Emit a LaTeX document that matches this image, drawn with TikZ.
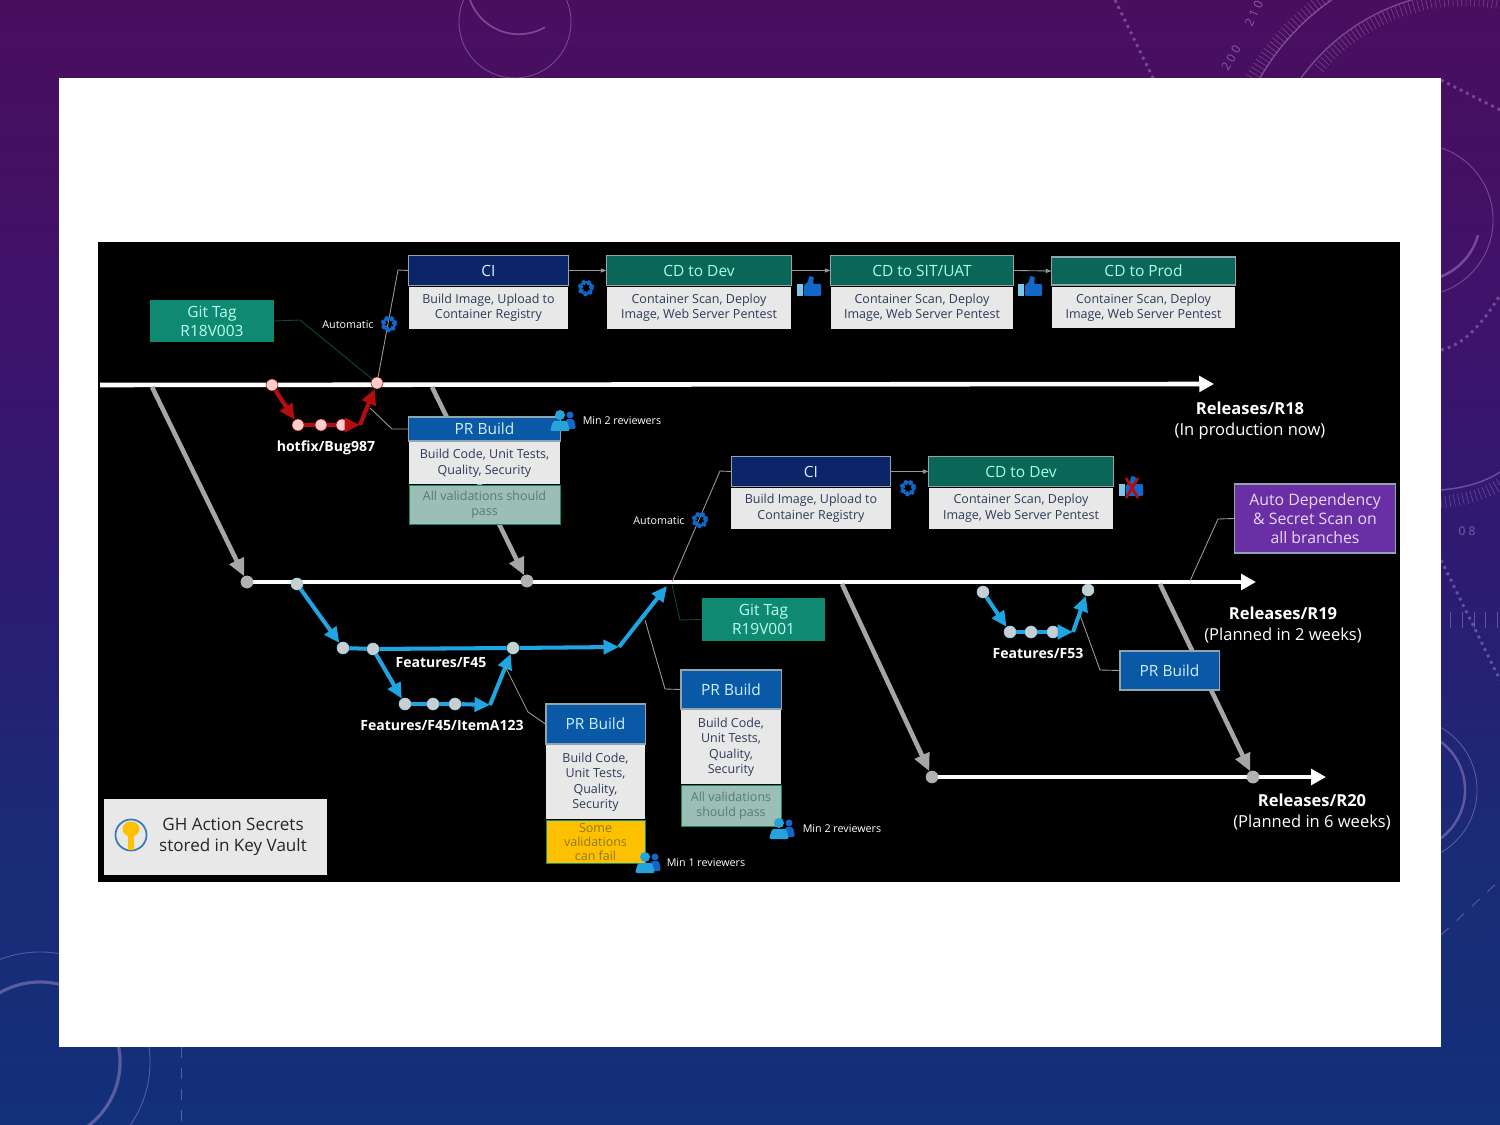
\documentclass[tikz,border=0pt]{standalone}
\usepackage{fontspec}
\usepackage{xcolor}
\usepackage{tikz}
\usetikzlibrary{arrows.meta, positioning}
\setmainfont{Open Sans}

\definecolor{slidea}{HTML}{4A0E5E}
\definecolor{slideb}{HTML}{40126A}
\definecolor{slidec}{HTML}{2D1A72}
\definecolor{slided}{HTML}{1A2A76}
\definecolor{slidee}{HTML}{13307A}
\definecolor{lilac}{HTML}{C9A9DC}
\definecolor{boxedge}{HTML}{8FA6B0}
\definecolor{cinavy}{HTML}{0B2568}
\definecolor{cdgreen}{HTML}{0A6656}
\definecolor{prblue}{HTML}{0A59A6}
\definecolor{taggreen}{HTML}{0F8A72}
\definecolor{bodygray}{HTML}{E8E8E8}
\definecolor{bodytext}{HTML}{2E3A58}
\definecolor{passfill}{HTML}{9CBFB5}
\definecolor{passtext}{HTML}{5A7A72}
\definecolor{failfill}{HTML}{FFC000}
\definecolor{failtext}{HTML}{8A7A1A}
\definecolor{scanfill}{HTML}{6B2FA5}
\definecolor{hotred}{HTML}{B30D12}
\definecolor{featblue}{HTML}{1FA5E2}
\definecolor{iconblue}{HTML}{1268C8}
\definecolor{peopleblue}{HTML}{27A3DC}

\pgfdeclareverticalshading{slidebg}{100bp}{color(0bp)=(slidee); color(25bp)=(slidee); color(38bp)=(slided); color(50bp)=(slidec); color(62bp)=(slideb); color(75bp)=(slidea); color(100bp)=(slidea)}

\tikzset{
  relline/.style={white, line width=1.3pt, -{Triangle[length=4.2pt, width=4.4pt]}},
  mergeline/.style={gray!70, line width=1.3pt, -{Triangle[length=5pt, width=4.4pt]}},
  hotline/.style={hotred, line width=1.2pt},
  featline/.style={featblue, line width=1.15pt},
  tipped/.style={-{Triangle[length=4.4pt, width=4pt]}},
  thinline/.style={gray!80, line width=.25pt},
  tagline/.style={thinline, draw=taggreen!55!black},
  stepline/.style={thinline, -{Triangle[length=1.6pt, width=1.2pt, fill=taggreen!60!cyan]}},
  commit/.style={circle, inner sep=0pt, minimum size=.12cm, line width=.15pt},
  relcommit/.style={commit, fill=gray!60, draw=gray!60},
  hotcommit/.style={commit, fill=red!20, draw=red!50!black},
  featcommit/.style={commit, fill=cyan!10!gray!45, draw=featblue!50},
  boxhead/.style={draw=boxedge, line width=.3pt, inner sep=0pt, font=\fontsize{4.4}{5.4}\selectfont},
  cihead/.style={boxhead, fill=cinavy, text=cyan!15, minimum width=1.59cm, minimum height=.3cm},
  cdhead/.style={boxhead, fill=cdgreen, text=green!20!cyan!35, minimum width=1.84cm, minimum height=.3cm},
  prhead/.style={boxhead, fill=prblue, text=cyan!20},
  boxbody/.style={fill=bodygray, text=bodytext, inner sep=0pt, align=center, font=\fontsize{3.55}{4.3}\selectfont},
  passbox/.style={boxbody, fill=passfill, text=passtext, draw=taggreen, line width=.25pt},
  failbox/.style={boxbody, fill=failfill, text=failtext, draw=taggreen, line width=.25pt, font=\fontsize{3.55}{4}\selectfont},
  tagbox/.style={fill=taggreen, text=green!25!cyan!25, inner sep=0pt, align=center, minimum width=1.23cm, minimum height=.42cm, font=\fontsize{4.4}{5.4}\selectfont},
  branchlabel/.style={text=white, inner sep=0pt, font=\bfseries\fontsize{4}{5}\selectfont},
  rellabel/.style={text=white, inner sep=0pt, align=center, font=\fontsize{4.7}{6}\selectfont},
  smalllabel/.style={text=white, inner sep=0pt, font=\fontsize{3.05}{3.6}\selectfont},
  gearicon/.style={circle, inner sep=0pt, minimum size=.115cm, draw=iconblue, line width=.7pt,
    preaction={draw=iconblue, line width=1.4pt, dash pattern=on .7pt off .72pt}},
  bgarc/.style={lilac, opacity=.38, line width=.25pt},
  pics/thumbicon/.style={code={
    \fill[peopleblue!60!white] (-12,-4) rectangle (-6,8);
    \fill[iconblue, rounded corners=.3pt] (-5,-3) -- (-1,-6) -- (0,-12) -- (5,-11) -- (4,-4) -- (12,-4) -- (12,8) -- (-5,8) -- cycle;
  }},
  pics/peopleicon/.style={code={
    \fill[iconblue] (7,-5) circle[radius=.035cm];
    \fill[iconblue, rounded corners=.5pt] (1,9) -- (3,-1) -- (11,-1) -- (13,9) -- cycle;
    \fill[peopleblue] (-3,-5) circle[radius=.05cm];
    \fill[peopleblue, rounded corners=.6pt] (-13,11) -- (-10,1) -- (4,1) -- (7,11) -- cycle;
  }}
}

\begin{document}
\begin{tikzpicture}[x=.01cm, y=-.01cm, >=stealth, node distance=0cm]
  \useasboundingbox (0,0) rectangle (1500,1125);
  \shade[shading=slidebg] (0,0) rectangle (1500,1125);

  \draw[bgarc] (515,22) circle[radius=.56cm];
  \draw[bgarc, line width=.5pt] (470,0) arc[start angle=200, end angle=300, radius=.52cm];
  \draw[bgarc, line width=.4pt] (1301,78) arc[start angle=144, end angle=60, radius=2.1cm];
  \draw[bgarc, line width=.4pt] (1260,78) arc[start angle=150, end angle=110, radius=2.45cm];
  \draw[bgarc, line width=.12cm, dash pattern=on .15pt off 1.1pt] (1319,68) arc[start angle=140, end angle=60, radius=1.9cm];
  \draw[bgarc, line width=.13cm, dash pattern=on .15pt off 1.1pt] (1252,78) arc[start angle=150, end angle=118, radius=2.58cm];
  \draw[bgarc] (1417,220) circle[radius=.76cm];
  \draw[bgarc, line width=.7pt] (1478,235) arc[start angle=-15, end angle=-100, radius=.62cm];
  \draw[bgarc, line width=.8pt, dash pattern=on .8pt off 1.2pt] (1115,0) -- (1153,78);
  \draw[bgarc, line width=.8pt, dash pattern=on .8pt off 1.2pt] (1441,80) -- (1500,110);
  \draw[bgarc, line width=.8pt, dash pattern=on .8pt off 1.2pt] (1441,350) .. controls (1465,345) and (1485,320) .. (1500,295);
  \draw[bgarc, line width=.4pt] (1441,490) .. controls (1465,488) and (1485,482) .. (1500,472);
  \draw[bgarc, line width=.12cm, dash pattern=on .15pt off 1.1pt] (1441,502) .. controls (1465,500) and (1485,494) .. (1500,484);
  \draw[bgarc, line width=.15cm, dash pattern=on .15pt off 3.2pt] (1450,620) -- (1500,620);
  \draw[bgarc, line width=.8pt, dash pattern=on .8pt off 1.2pt] (1441,560) -- (1500,680);
  \draw[bgarc] (1405,790) circle[radius=.72cm];
  \draw[bgarc, line width=.7pt] (1405,790) circle[radius=.6cm];
  \draw[bgarc, dashed] (1441,935) -- (1500,880);
  \draw[bgarc, line width=.9pt] (40,1062) circle[radius=.8cm];
  \draw[bgarc] (40,1062) circle[radius=1.1cm];
  \draw[bgarc, dashed] (181,1047) -- (181,1125);
  \node[text=lilac, opacity=.5, rotate=60, inner sep=0pt, font=\fontsize{3.4}{4}\selectfont] (degtwohundred) at (1231,58) {2 0 0};
  \node[text=lilac, opacity=.5, rotate=65, inner sep=0pt, font=\fontsize{3.4}{4}\selectfont] (degtwoten) at (1254,14) {2 1 0};
  \node[text=lilac, opacity=.5, inner sep=0pt, font=\fontsize{3.4}{4}\selectfont] (degeight) at (1467,531) {0 8};

  \fill[white] (59,78) rectangle (1441,1047);
  \fill[black] (98,242) rectangle (1400,882);

  \coordinate (r18start) at (100,385);
  \coordinate (r18end) at (1214,384);
  \coordinate (r19end) at (1256,582);
  \coordinate (r20end) at (1326,777);
  \draw[relline] (r18start) -- (r18end);

  \node[relcommit] (r19start) at (247,582) {};
  \node[relcommit] (r19merge) at (527,581) {};
  \node[relcommit] (r20start) at (932,777) {};
  \node[relcommit] (r20merge) at (1253,777) {};
  \draw[relline] (r19start) -- (r19end);
  \draw[relline] (r20start) -- (r20end);
  \node[relcommit] at (r19start) {};
  \node[relcommit] at (r19merge) {};
  \node[relcommit] at (r20merge) {};

  \node[hotcommit] (hotbranch) at (272,385) {};
  \node[hotcommit] (hota) at (298,425) {};
  \node[hotcommit] (hotb) at (321,425) {};
  \node[hotcommit] (hotc) at (342,425) {};
  \node[hotcommit] (hotmerge) at (377,383) {};
  \coordinate (hotbend) at (360,425);
  \draw[hotline, tipped] (hotbranch) -- (hota);
  \draw[hotline] (hota) -- (hotb);
  \draw[hotline] (hotb) -- (hotc);
  \draw[hotline, tipped] (hotc) -- (hotbend);
  \draw[hotline, tipped] (hotbend) -- (hotmerge);

  \node[featcommit] (f45branch) at (297,584) {};
  \node[featcommit] (f45a) at (343,648) {};
  \node[featcommit] (f45b) at (373,649) {};
  \node[featcommit] (f45merge) at (513,648) {};
  \coordinate (f45bend) at (619,647);
  \coordinate (f45end) at (667,586);
  \draw[featline, tipped] (f45branch) -- (f45a);
  \draw[featline] (f45a) -- (f45b);
  \draw[featline] (f45b) -- (f45merge);
  \draw[featline, tipped] (f45merge) -- (f45bend);
  \draw[featline, tipped] (f45bend) -- (f45end);

  \node[featcommit] (itema) at (405,704) {};
  \node[featcommit] (itemb) at (433,704) {};
  \node[featcommit] (itemc) at (455,704) {};
  \coordinate (itembend) at (490,705);
  \draw[featline, tipped] (f45b) -- (itema);
  \draw[featline] (itema) -- (itemb);
  \draw[featline] (itemb) -- (itemc);
  \draw[featline, tipped] (itemc) -- (itembend);
  \draw[featline, tipped] (itembend) -- (f45merge);

  \node[featcommit] (f53branch) at (983,592) {};
  \node[featcommit] (f53a) at (1010,632) {};
  \node[featcommit] (f53b) at (1031,632) {};
  \node[featcommit] (f53c) at (1053,632) {};
  \node[featcommit] (f53merge) at (1088,590) {};
  \coordinate (f53bend) at (1073,632);
  \draw[featline, tipped] (f53branch) -- (f53a);
  \draw[featline] (f53a) -- (f53b);
  \draw[featline] (f53b) -- (f53c);
  \draw[featline, tipped] (f53c) -- (f53bend);
  \draw[featline, tipped] (f53bend) -- (f53merge);

  \coordinate (r18fork) at (152,387);
  \coordinate (r18back) at (432,387);
  \coordinate (r19fork) at (842,584);
  \coordinate (r19back) at (1160,584);
  \draw[mergeline] (r18fork) -- (r19start);
  \draw[mergeline] (r18back) -- (r19merge);
  \draw[mergeline] (r19fork) -- (r20start);
  \draw[mergeline] (r19back) -- (r20merge);

  \node[cihead] (ci) at (488.5,270.5) {CI};
  \node[boxbody, below=0cm of ci, minimum width=1.58cm, minimum height=.42cm] (cibody) {Build Image, Upload to\\Container Registry};
  \node[cdhead] (cddev) at (699,270.5) {CD to Dev};
  \node[boxbody, below=0cm of cddev, minimum width=1.84cm, minimum height=.42cm] (cddevbody) {Container Scan, Deploy\\Image, Web Server Pentest};
  \node[cdhead, minimum width=1.82cm] (cdsit) at (922,270.5) {CD to SIT/UAT};
  \node[boxbody, below=0cm of cdsit, minimum width=1.82cm, minimum height=.42cm] (cdsitbody) {Container Scan, Deploy\\Image, Web Server Pentest};
  \node[cdhead, minimum width=1.83cm, minimum height=.28cm] (cdprod) at (1143.5,271) {CD to Prod};
  \node[boxbody, below=.01cm of cdprod, minimum width=1.82cm, minimum height=.41cm] (cdprodbody) {Container Scan, Deploy\\Image, Web Server Pentest};

  \node[cihead] (cinext) at (811,471.5) {CI};
  \node[boxbody, below=0cm of cinext, minimum width=1.59cm, minimum height=.41cm] (cinextbody) {Build Image, Upload to\\Container Registry};
  \node[cdhead] (cdnext) at (1021,471.5) {CD to Dev};
  \node[boxbody, below=0cm of cdnext, minimum width=1.84cm, minimum height=.41cm] (cdnextbody) {Container Scan, Deploy\\Image, Web Server Pentest};

  \node[tagbox] (tagr18) at (212,321) {Git Tag\\R18V003};
  \node[tagbox] (tagr19) at (763.5,619.5) {Git Tag\\R19V001};

  \node[prhead, minimum width=1.51cm, minimum height=.24cm] (prfix) at (484.5,429) {PR Build};
  \node[boxbody, below=0cm of prfix, minimum width=1.51cm, minimum height=.42cm] (prfixbody) {Build Code, Unit Tests,\\Quality, Security};
  \node[passbox, below=0cm of prfixbody, minimum width=1.51cm, minimum height=.395cm] (prfixpass) {All validations should\\pass};

  \node[prhead, minimum width=.99cm, minimum height=.4cm] (pritem) at (595.5,724) {PR Build};
  \node[boxbody, below=0cm of pritem, minimum width=.99cm, minimum height=.74cm] (pritembody) {Build Code,\\Unit Tests,\\Quality,\\Security};
  \node[failbox, below=0cm of pritembody, minimum width=.99cm, minimum height=.425cm] (pritemfail) {Some\\validations\\can fail};

  \node[prhead, minimum width=1cm, minimum height=.39cm] (prfeat) at (731,689.5) {PR Build};
  \node[boxbody, below=0cm of prfeat, minimum width=.99cm, minimum height=.74cm] (prfeatbody) {Build Code,\\Unit Tests,\\Quality,\\Security};
  \node[passbox, below=0cm of prfeatbody, minimum width=1cm, minimum height=.405cm] (prfeatpass) {All validations\\should pass};

  \node[prhead, minimum width=.99cm, minimum height=.39cm] (prfiftythree) at (1169.5,670.5) {PR Build};

  \node[fill=scanfill, draw=boxedge, line width=.3pt, text=lilac!45!white, inner sep=0pt, align=center, minimum width=1.6cm, minimum height=.69cm, font=\fontsize{4.5}{5.4}\selectfont] (scan) at (1315,518.5) {Auto Dependency\\\& Secret Scan on\\all branches};

  \coordinate (cibend) at (398,270);
  \coordinate (tagbend) at (300,320);
  \coordinate (prfixbend) at (392,429);
  \coordinate (prfixfoot) at (370,408);
  \coordinate (r19ci) at (672,582);
  \coordinate (cinextbend) at (720,471);
  \coordinate (tagnextfoot) at (672,585);
  \coordinate (tagnextbend) at (680,620);
  \coordinate (pritembend) at (528,712);
  \coordinate (pritemfoot) at (505,666);
  \coordinate (prfeatbend) at (665,689);
  \coordinate (prfeatfoot) at (645,620);
  \coordinate (prfiftybend) at (1100,670);
  \coordinate (prfiftyfoot) at (1080,615);
  \coordinate (scanbend) at (1218,519);
  \coordinate (scanfoot) at (1190,581);
  \draw[thinline] (hotmerge) -- (cibend) -- (ci.west);
  \draw[tagline] (tagr18.east) -- (tagbend) -- (hotmerge);
  \draw[thinline] (prfix.west) -- (prfixbend) -- (prfixfoot);
  \draw[thinline] (r19ci) -- (cinextbend) -- (cinext.west);
  \draw[tagline] (tagr19.west) -- (tagnextbend) -- (tagnextfoot);
  \draw[thinline] (pritem.west) -- (pritembend) -- (pritemfoot);
  \draw[thinline] (prfeat.west) -- (prfeatbend) -- (prfeatfoot);
  \draw[thinline] (prfiftythree.west) -- (prfiftybend) -- (prfiftyfoot);
  \draw[thinline] (scan.west) -- (scanbend) -- (scanfoot);
  \draw[stepline] (ci.east) -- (cddev.west);
  \draw[stepline] (cddev.east) -- (cdsit.west);
  \draw[stepline] (cdsit.east) -- (cdprod.west);
  \draw[stepline] (cinext.east) -- (cdnext.west);

  \node[gearicon] (gearauto) at (389,324) {};
  \node[gearicon] (gearci) at (586,288) {};
  \node[gearicon] (gearnextauto) at (700,520) {};
  \node[gearicon] (gearnext) at (908,488) {};
  \node[smalllabel] (autolabel) at (348,325) {Automatic};
  \node[smalllabel] (autonextlabel) at (659,521) {Automatic};

  \pic at (809,288) {thumbicon};
  \pic at (1030,288) {thumbicon};
  \pic at (1131,488) {thumbicon};
  \draw[hotred, line width=.8pt] (1126,478) -- (1138,498);
  \draw[hotred, line width=.8pt] (1138,478) -- (1126,498);

  \pic at (563,420) {peopleicon};
  \pic at (648,862) {peopleicon};
  \pic at (782,828) {peopleicon};
  \node[smalllabel] (minfix) at (622,420.5) {Min 2 reviewers};
  \node[smalllabel] (minitem) at (706,863) {Min 1 reviewers};
  \node[smalllabel] (minfeat) at (842,829) {Min 2 reviewers};

  \node[branchlabel] (hotlabel) at (326,448) {hotfix/Bug987};
  \node[branchlabel] (f45label) at (441,663) {Features/F45};
  \node[branchlabel] (itemlabel) at (442,725) {Features/F45/ItemA123};
  \node[branchlabel] (f53label) at (1038,653) {Features/F53};

  \node[rellabel] (r18label) at (1250,421) {\textbf{Releases/R18}\\(In production now)};
  \node[rellabel] (r19label) at (1283,625) {\textbf{Releases/R19}\\(Planned in 2 weeks)};
  \node[rellabel] (r20label) at (1312,812) {\textbf{Releases/R20}\\(Planned in 6 weeks)};

  \node[fill=bodygray, inner sep=0pt, minimum width=2.23cm, minimum height=.76cm] (keybox) at (215.5,837) {};
  \node[circle, draw=prblue!80!white, fill=bodygray, line width=.5pt, inner sep=0pt, minimum size=.31cm] (keyicon) at (131,835) {};
  \fill[failfill] (131,829) ellipse[x radius=.085cm, y radius=.075cm];
  \fill[failfill] (128,832) rectangle (134,850);
  \node[text=black!85, inner sep=0pt, align=center, font=\fontsize{4.85}{6}\selectfont] (keylabel) at (233,837) {GH Action Secrets\\stored in Key Vault};
\end{tikzpicture}
\end{document}
